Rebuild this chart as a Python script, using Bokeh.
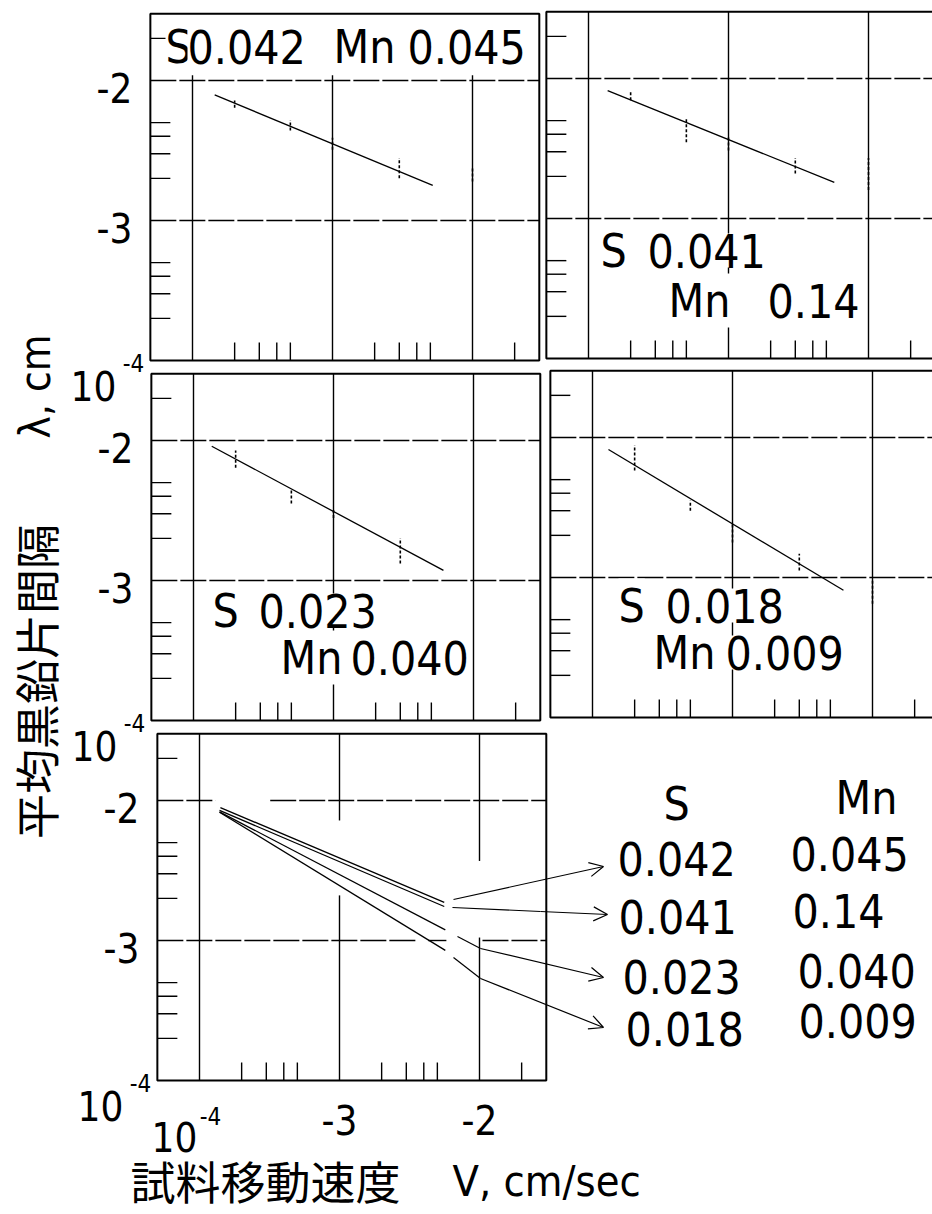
import math
from bokeh.plotting import figure
from bokeh.models import Range1d, LogScale, Arrow, OpenHead
from bokeh.core.properties import value
from bokeh.embed import file_html
from bokeh.resources import INLINE

W, H = 932, 1214
DECADE = 140  # pixels per decade on both log axes

# ------------------------------------------------------------------ data
# sample travel speed V (cm/sec) at which spacings were measured
SPEED = [2e-4, 5e-4, 1e-3, 3e-3, 1e-2]
SPEED_C = [2e-4, 5e-4, 1e-3, 3e-3]

# mean graphite flake spacing lambda (cm): scatter ranges (low / high)
A_LO = [6.4e-3, 4.4e-3, 3.2e-3, 2.0e-3, 1.9e-3]      # S 0.042  Mn 0.045
A_HI = [7.2e-3, 5.2e-3, 3.9e-3, 2.8e-3, 2.4e-3]
B_LO = [7.0e-3, 3.5e-3, 3.06e-3, 2.1e-3, 1.6e-3]     # S 0.041  Mn 0.14
B_HI = [8.2e-3, 5.2e-3, 3.9e-3, 2.7e-3, 2.7e-3]
C_LO = [6.4e-3, 3.55e-3, 2.8e-3, 1.32e-3]            # S 0.023  Mn 0.040
C_HI = [8.5e-3, 4.4e-3, 3.3e-3, 2.0e-3]
D_LO = [5.8e-3, 3.0e-3, 1.78e-3, 1.12e-3, 6.5e-4]    # S 0.018  Mn 0.009
D_HI = [8.8e-3, 3.55e-3, 2.43e-3, 1.48e-3, 9.5e-4]

# fitted lines (end points)
A_FIT_V, A_FIT_L = [1.44e-4, 5.2e-3], [7.9e-3, 1.78e-3]
B_FIT_V, B_FIT_L = [1.37e-4, 5.7e-3], [8.2e-3, 1.81e-3]
C_FIT_V, C_FIT_L = [1.35e-4, 6.1e-3], [9.1e-3, 1.18e-3]
D_FIT_V, D_FIT_L = [1.30e-4, 6.2e-3], [8.2e-3, 8.1e-4]

# summary panel: the four fitted lines together
SUM_V = [[1.41e-4, 5.6e-3], [1.39e-4, 5.6e-3], [1.39e-4, 5.7e-3], [1.39e-4, 5.7e-3]]
SUM_L = [[8.9e-3, 1.87e-3], [8.5e-3, 1.75e-3], [8.3e-3, 1.19e-3], [8.25e-3, 8.5e-4]]

S_VALUES = ["0.042", "0.041", "0.023", "0.018"]
MN_VALUES = ["0.045", "0.14", "0.040", "0.009"]

# axes
V_BOUNDS = (5e-5, 3e-2)
L_BOUNDS = (1e-4, 3e-2)
MAJOR = [1e-4, 1e-3, 1e-2]
MAJOR_Y = [1e-3, 1e-2]
MINOR = [2e-4, 3e-4, 4e-4, 5e-4, 2e-3, 3e-3, 4e-3, 5e-3, 2e-2]
Y_TICK_LABELS = ["-3", "-2"]
X_TICK_LABELS = ["-3", "-2"]

# top-left panel: vertical grid stops under the caption strip
A_VGRID_TOP = 1.09e-2

# summary panel grid lines are interrupted where the curves / arrows pass
E_VGRID_X = [1e-4, 1e-3, 1e-3, 1e-2, 1e-2]
E_VGRID_Y0 = [1e-4, 1e-4, 7.2e-3, 1e-4, 3.7e-3]
E_VGRID_Y1 = [3e-2, 2.1e-3, 3e-2, 1.05e-3, 3e-2]
E_HGRID_Y = [1e-2, 1e-2, 1e-3, 1e-3, 1e-3]
E_HGRID_X0 = [5e-5, 3.2e-4, 5e-5, 4.3e-3, 1.05e-2]
E_HGRID_X1 = [1.3e-4, 3e-2, 3.5e-3, 5.8e-3, 3e-2]

# ------------------------------------------------------------------ layout
# pixel position of V=1e-4 (x) and lambda=1e-2 (y) for each panel
PANELS = {
    "a": (192, 80),
    "b": (588, 78),
    "c": (193, 440),
    "d": (592, 437),
    "e": (199, 800),
}

NUM_FONT = value("Liberation Sans Narrow, DejaVu Sans Condensed, Roboto Condensed, Liberation Sans, sans-serif")
JP_FONT = value("Noto Sans CJK JP")

p = figure(width=W, height=H, x_range=Range1d(0, W), y_range=Range1d(H, 0),
           x_axis_type=None, y_axis_type=None, output_backend="svg",
           toolbar_location=None, min_border=0)
p.outline_line_color = None
p.background_fill_color = "white"

xr, yr, xs, ys = {}, {}, {}, {}
for name, (x4, y2) in PANELS.items():
    xr[name] = Range1d(10 ** (-4 - x4 / DECADE), 10 ** (-4 + (W - x4) / DECADE))
    yr[name] = Range1d(10 ** (-2 - (H - y2) / DECADE), 10 ** (-2 + y2 / DECADE))
    xs[name] = LogScale()
    ys[name] = LogScale()
p.extra_x_ranges = xr
p.extra_y_ranges = yr
p.extra_x_scales = xs
p.extra_y_scales = ys


def rn(n):
    return dict(x_range_name=n, y_range_name=n)


GRID_V = dict(line_color="black", line_width=1.4)
GRID_H = dict(line_color="black", line_width=1.4, line_dash="26 3")

# grid lines and inner ticks
for n in PANELS:
    if n == "e":
        p.segment(x0=E_VGRID_X, x1=E_VGRID_X, y0=E_VGRID_Y0, y1=E_VGRID_Y1, **GRID_V, **rn(n))
        p.segment(x0=E_HGRID_X0, x1=E_HGRID_X1, y0=E_HGRID_Y, y1=E_HGRID_Y, **GRID_H, **rn(n))
    else:
        top = A_VGRID_TOP if n == "a" else L_BOUNDS[1]
        p.segment(x0=MAJOR, x1=MAJOR, y0=[L_BOUNDS[0]] * 3, y1=[top] * 3,
                  **GRID_V, **rn(n))
        p.segment(x0=[V_BOUNDS[0]] * 2, x1=[V_BOUNDS[1]] * 2, y0=MAJOR_Y, y1=MAJOR_Y,
                  **GRID_H, **rn(n))
    p.ray(x=[V_BOUNDS[0]] * len(MINOR), y=MINOR, length=20, length_units="screen",
          angle=0, line_color="black", line_width=1.4, **rn(n))
    p.ray(x=MINOR, y=[L_BOUNDS[0]] * len(MINOR), length=18, length_units="screen",
          angle=math.pi / 2, line_color="black", line_width=1.4, **rn(n))

# panel captions (page coordinates)
cap = dict(text_font=NUM_FONT, text_font_size="46px", text_baseline="middle",
           text_align="left", background_fill_color="white", padding=0)
# top-left: one line in a boxed strip
p.text(x=[165, 187, 333, 407], y=[46] * 4,
       text=["S", S_VALUES[0], "Mn", MN_VALUES[0]], **cap)
# others: two lines
p.text(x=[668, 767, 653, 725, 280, 350], y=[300, 300, 652, 652, 657, 657],
       text=["Mn", MN_VALUES[1], "Mn", MN_VALUES[3], "Mn", MN_VALUES[2]], **cap)
p.text(x=[600, 647, 618, 665, 212, 258], y=[250, 250, 605, 605, 610, 610],
       text=["S", S_VALUES[1], "S", S_VALUES[3], "S", S_VALUES[2]], **cap)

# data: error bars + fitted lines
for n, v, lo, hi, fv, fl in [
    ("a", SPEED, A_LO, A_HI, A_FIT_V, A_FIT_L),
    ("b", SPEED, B_LO, B_HI, B_FIT_V, B_FIT_L),
    ("c", SPEED_C, C_LO, C_HI, C_FIT_V, C_FIT_L),
    ("d", SPEED, D_LO, D_HI, D_FIT_V, D_FIT_L),
]:
    p.segment(x0=v, x1=v, y0=lo, y1=hi, line_color="black", line_width=1.6,
              line_dash="3 2", **rn(n))
    p.line(x=fv, y=fl, line_color="black", line_width=1.3, **rn(n))

p.multi_line(xs=SUM_V, ys=SUM_L, line_color="black", line_width=1.3, **rn("e"))

# frames
for n in PANELS:
    p.quad(left=[V_BOUNDS[0]], right=[V_BOUNDS[1]], bottom=[L_BOUNDS[0]], top=[L_BOUNDS[1]],
           fill_color=None, line_color="black", line_width=2, **rn(n))

# y tick labels on the left column
tick = dict(text_font=NUM_FONT, text_font_size="40px", text_baseline="middle")
sup = dict(text_font=NUM_FONT, text_font_size="24px", text_baseline="middle")
for n in ["a", "c", "e"]:
    p.text(x=[V_BOUNDS[0]] * 2, y=MAJOR_Y, text=Y_TICK_LABELS, text_align="right",
           x_offset=-18, y_offset=7, **tick, **rn(n))
    p.text(x=[V_BOUNDS[0]], y=[L_BOUNDS[0]], text=["10"], text_align="right",
           x_offset=-34, y_offset=25, **tick, **rn(n))
    p.text(x=[V_BOUNDS[0]], y=[L_BOUNDS[0]], text=["-4"], text_align="right",
           x_offset=-6, y_offset=2, **sup, **rn(n))

# x tick labels under the summary panel
p.text(x=MAJOR[1:], y=[L_BOUNDS[0]] * 2, text=X_TICK_LABELS, text_align="center",
       y_offset=39, **tick, **rn("e"))
p.text(x=[MAJOR[0]], y=[L_BOUNDS[0]], text=["10"], text_align="center",
       x_offset=-25, y_offset=56, **tick, **rn("e"))
p.text(x=[MAJOR[0]], y=[L_BOUNDS[0]], text=["-4"], text_align="center",
       x_offset=11, y_offset=35, **sup, **rn("e"))

# axis titles
p.text(x=[130], y=[1180], text=["試料移動速度"], text_font=JP_FONT, text_font_size="45px",
       text_baseline="middle", text_align="left")
p.text(x=[452], y=[1180], text=["V, cm/sec"], text_font=NUM_FONT, text_font_size="43px",
       text_baseline="middle", text_align="left")
p.text(x=[35], y=[681], text=["平均黒鉛片間隔"], text_font=JP_FONT, text_font_size="45px",
       text_baseline="middle", text_align="center", angle=math.pi / 2)
p.text(x=[35], y=[386], text=["λ, cm"], text_font=NUM_FONT, text_font_size="42px",
       text_baseline="middle", text_align="center", angle=math.pi / 2)

# legend block
leg = dict(text_font=NUM_FONT, text_font_size="46px", text_baseline="middle", text_align="left")
p.text(x=[663, 835], y=[803, 797], text=["S", "Mn"], **leg)
p.text(x=[617, 618, 622, 625], y=[858, 916, 976, 1028], text=S_VALUES, **leg)
p.text(x=[790, 792, 797, 798], y=[853, 910, 970, 1020], text=MN_VALUES, **leg)

# pointer arrows from the lines to the legend
ARROWS = [
    [(453, 899), (603, 866)],
    [(452, 907), (540, 911), (607, 914)],
    [(457, 936), (480, 948), (603, 977)],
    [(453, 957), (480, 978), (603, 1027)],
]
for path in ARROWS:
    if len(path) > 2:
        p.line(x=[q[0] for q in path[:-1]], y=[q[1] for q in path[:-1]],
               line_color="black", line_width=1.2)
    (x0, y0), (x1, y1) = path[-2], path[-1]
    p.add_layout(Arrow(x_start=x0, y_start=y0, x_end=x1, y_end=y1, line_width=1.2,
                       end=OpenHead(size=14, line_width=1.2)))

open("out.html", "w").write(file_html(p, INLINE))
